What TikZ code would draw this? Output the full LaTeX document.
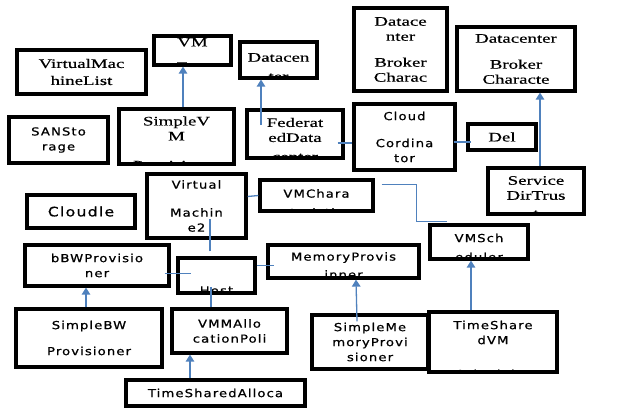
\documentclass[tikz,border=0pt]{standalone}
\usepackage{fontspec}
\usepackage{tikz}
\usetikzlibrary{arrows.meta}
\newfontfamily\boxrm[FakeStretch=1.45,FakeBold=0.4]{Liberation Serif}
\newfontfamily\boxss[FakeStretch=1.2,LetterSpace=10,FakeBold=0.8]{DejaVu Sans}
\newcommand{\boxrmfont}{\boxrm\fontsize{13}{15}\selectfont}
\newcommand{\boxssfont}{\boxss\fontsize{11}{15}\selectfont}
\definecolor{linkblue}{HTML}{4F81BD}
\tikzset{
	box/.style={draw, line width=3.2pt, align=center, inner sep=1pt},
	rmbox/.style={box, font=\boxrmfont},
	ssbox/.style={box, font=\boxssfont},
	cuttext/.style n args={3}{path picture={\node[align=center, font=#1] at ([yshift=#2]path picture bounding box.center) {#3};}},
	link/.style={draw=linkblue, line width=1.3pt},
	arr/.style={link, -{Triangle[length=7pt,width=8.5pt]}, color=linkblue},
}

\begin{document}
\begin{tikzpicture}[x=1pt,y=1pt]
	\useasboundingbox[fill=white] (0,0) rectangle (626,-410);
	% top rows
	\node (vmlist) [rmbox, minimum width=129, minimum height=44] at (81.5,-72) {VirtualMac\\[2pt]hineList};
	\node (vmbox) [rmbox, align=left, minimum width=77, minimum height=29] at (192.5,-50.5) {VM\\\_};
	\node (dc) [rmbox, minimum width=77, minimum height=36, cuttext={\boxrmfont}{-7}{Datacen\\[4pt]ter}] at (278.5,-60) {};
	\node (dbc1) [rmbox, minimum width=93, minimum height=83] at (400.5,-49.5) {Datace\\nter\\[11pt]Broker\\Charac};
	\node (dbc2) [rmbox, minimum width=118, minimum height=64] at (516,-59) {Datacenter\\[11pt]Broker\\Characte};
	\node (san) [ssbox, minimum width=99, minimum height=46] at (58.5,-140) {SANSto\\rage};
	\node (simplevm) [rmbox, minimum width=115, minimum height=55, cuttext={\boxrmfont}{-6.5}{SimpleV\\M\\[14pt]Provisioner}] at (176.5,-136.5) {};
	\node (fed) [rmbox, minimum width=96, minimum height=48, cuttext={\boxrmfont}{-5.5}{Federat\\edData\\[4pt]center}] at (295,-134) {};
	\node (cloudco) [ssbox, minimum width=101, minimum height=66] at (404.5,-137) {Cloud\\[12pt]Cordina\\tor};
	\node (del) [rmbox, minimum width=68, minimum height=26] at (502,-137) {Del};
	\node (sdt) [rmbox, minimum width=96, minimum height=46, cuttext={\boxrmfont}{-6}{Service\\DirTrus\\[3pt]t}] at (536,-191) {};
	% middle rows
	\node (cloudle) [ssbox, font=\boxss\fontsize{13}{15}\selectfont, minimum width=108, minimum height=33] at (81,-211.5) {Cloudle};
	\node (vm2) [ssbox, minimum width=99, minimum height=64] at (196.5,-206) {Virtual\\[13pt]Machin\\e2};
	\node (vmchara) [ssbox, minimum width=113, minimum height=31, cuttext={\boxssfont}{-7.5}{VMChara\\[4pt]cteristics}] at (316.5,-195.5) {};
	\node (bbw) [ssbox, minimum width=144, minimum height=41] at (97,-265.5) {bBWProvisio\\ner};
	\node (host) [ssbox, minimum width=77, minimum height=35, cuttext={\boxssfont}{-15}{Host}] at (216.5,-275.5) {};
	\node (memprov) [ssbox, minimum width=151, minimum height=33, cuttext={\boxssfont}{-4}{MemoryProvis\\[3pt]inner}] at (343.5,-261.5) {};
	\node (vmsched) [ssbox, minimum width=98, minimum height=34, cuttext={\boxssfont}{-5.5}{VMSch\\[4pt]eduler}] at (479,-242) {};
	% bottom rows
	\node (simplebw) [ssbox, minimum width=146, minimum height=58] at (89,-338) {SimpleBW\\[11pt]Provisioner};
	\node (vmmalloc) [ssbox, minimum width=115, minimum height=44] at (229.5,-331) {VMMAllo\\cationPoli};
	\node (tsalloc) [ssbox, minimum width=179, minimum height=26] at (215.5,-393) {TimeSharedAlloca};
	\node (simplemem) [ssbox, minimum width=116, minimum height=54] at (370,-342) {SimpleMe\\moryProvi\\sioner};
	\node (tsvm) [ssbox, minimum width=128, minimum height=60, cuttext={\boxssfont}{-7.5}{TimeShare\\dVM\\[19pt]Scheduler}] at (493,-342) {};
	% arrows
	\draw[arr] ([xshift=6.5]simplevm.north) -- ([xshift=-9.5]vmbox.south);
	\draw[arr] ([xshift=-34,yshift=9]fed.center) -- ([xshift=-17.5]dc.south);
	\draw[arr] ([xshift=4]sdt.north) -- ([xshift=24]dbc2.south);
	\draw[arr] ([xshift=-3]simplebw.north) -- ([xshift=-11]bbw.south);
	\draw[arr] ([xshift=-25.5]tsalloc.north) -- ([xshift=-39.5]vmmalloc.south);
	\draw[arr] ([xshift=-13,yshift=-8]simplemem.north) -- ([xshift=12.5]memprov.south);
	\draw[arr] ([xshift=-22]tsvm.north) -- ([xshift=-8]vmsched.south);
	% plain links
	\draw[link] ([xshift=-7,yshift=-9]fed.east) -- ([yshift=-6]cloudco.west);
	\draw[link] ([xshift=-3,yshift=-5]cloudco.east) -- ([xshift=5,yshift=-5]del.west);
	\draw[link] ([yshift=9.5]vm2.east) -- (vmchara.west);
	\draw[link] ([xshift=7,yshift=11]vmchara.east) -- ++(35,0) |- ([xshift=-32,yshift=2]vmsched.north);
	\draw[link] ([xshift=-6.5,yshift=5]host.north) -- ([xshift=13.5,yshift=21]vm2.south);
	\draw[link] ([xshift=-6,yshift=-8]bbw.east) -- ([xshift=15,yshift=2]host.west);
	\draw[link] ([yshift=10]host.east) -- ([xshift=8,yshift=-4]memprov.west);
	\draw[link] ([xshift=-18.5]vmmalloc.north) -- ([xshift=-5.5,yshift=8]host.south);
\end{tikzpicture}
\end{document}
